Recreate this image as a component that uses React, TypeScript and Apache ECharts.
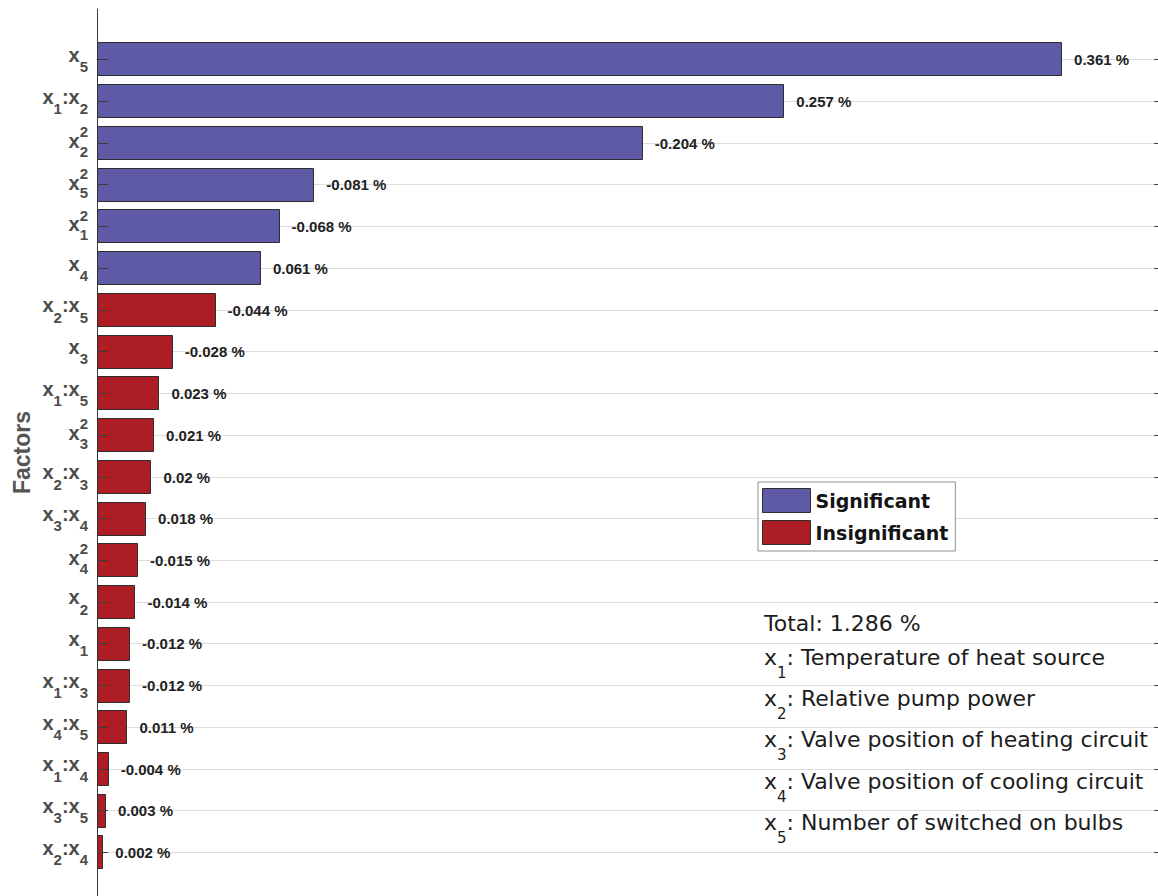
import React, { useEffect, useRef } from "react";
import * as echarts from "echarts";

// Model terms, ordered by the magnitude of their effect
const categories = [
  "x5", "x1:x2", "x2^2", "x5^2", "x1^2", "x4", "x2:x5", "x3", "x1:x5", "x3^2",
  "x2:x3", "x3:x4", "x4^2", "x2", "x1", "x1:x3", "x4:x5", "x1:x4", "x3:x5", "x2:x4",
];

// Signed effect of each term, in percent
const effects = [
  0.361, 0.257, -0.204, -0.081, -0.068, 0.061, -0.044, -0.028, 0.023, 0.021,
  0.02, 0.018, -0.015, -0.014, -0.012, -0.012, 0.011, -0.004, 0.003, 0.002,
];

// Whether each term is statistically significant
const significant = [
  true, true, true, true, true, true, false, false, false, false,
  false, false, false, false, false, false, false, false, false, false,
];

const groupNames = ["Significant", "Insignificant"];
const totalEffect = 1.286;
const factorDescriptions = [
  "Temperature of heat source",
  "Relative pump power",
  "Valve position of heating circuit",
  "Valve position of cooling circuit",
  "Number of switched on bulbs",
];

// Axis extents: the frame runs a little past the visible canvas on the right and bottom
const X_MAX = 0.3973;
const X_FRAME = 0.4;
const Y_MIN = -1.2;
const Y_MAX = 20.05;

const SIG_COLOR = "#5e5aa5";
const INSIG_COLOR = "#ad1d24";
const EDGE = "#2e2e2e";
const AXIS = "#3c3c3c";
const GRID = "#dcdcdc";
const SANS = "'Liberation Sans', Arial, Helvetica, sans-serif";
const WIDE = "'DejaVu Sans', Verdana, sans-serif";
const LABEL_GRAY = "#4c4c4c";

function parseTerm(term: string) {
  const squared = term.endsWith("^2");
  const body = squared ? term.slice(0, -2) : term;
  const rich = body
    .split(":")
    .map((t) => `{b|x}{s|${t.slice(1)}}`)
    .join("{b|:}");
  return { rich, squared };
}

const parsedTerms = categories.map(parseTerm);

const richBase = (lineHeight: number) => ({
  b: { fontFamily: SANS, fontSize: 20, fontWeight: "bold", fill: LABEL_GRAY, lineHeight },
  s: { fontFamily: SANS, fontSize: 15, fontWeight: "bold", fill: LABEL_GRAY, verticalAlign: "bottom" },
});
const richPlain = richBase(38.5);
const richSquared = richBase(35.5);

const crisp = (v: number) => Math.round(v) + 0.5;

function barSeries(name: string, color: string, flag: boolean) {
  const data = effects
    .map((v, i) => [Math.abs(v), i, v])
    .filter((_, i) => significant[i] === flag);
  return {
    type: "custom",
    name,
    clip: false,
    encode: { x: 0, y: 1 },
    itemStyle: { color, borderColor: EDGE, borderWidth: 1 },
    data,
    renderItem: (_params: any, api: any) => {
      const mag = api.value(0);
      const idx = api.value(1);
      const signed = api.value(2);
      const start = api.coord([0, idx]);
      const end = api.coord([mag, idx]);
      const h = api.size([0, 0.8])[1];
      return {
        type: "group",
        children: [
          {
            type: "rect",
            shape: {
              x: Math.round(start[0]) + 0.5,
              y: Math.round(start[1] - h / 2) + 0.5,
              width: Math.round(end[0] - start[0]),
              height: Math.round(h),
            },
            style: { fill: color, stroke: EDGE, lineWidth: 1 },
          },
          {
            type: "text",
            x: end[0] + 13,
            y: end[1] + 0.5,
            style: {
              text: `${signed} %`,
              fontFamily: SANS,
              fontSize: 15,
              fontWeight: "bold",
              fill: "#222222",
              align: "left",
              verticalAlign: "middle",
            },
          },
        ],
      };
    },
  };
}

export default function App() {
  const ref = useRef<HTMLDivElement>(null);

  useEffect(() => {
    if (!ref.current) return;
    const chart = echarts.init(ref.current, undefined, { renderer: "svg" });

    const rowData = categories.map((_, i) => [0, i]);

    const option: any = {
      animation: false,
      backgroundColor: "#ffffff",
      grid: { left: 97, top: 9, right: 0, bottom: 0, containLabel: false },
      xAxis: {
        type: "value",
        min: 0,
        max: X_MAX,
        position: "top",
        axisLine: { show: true, lineStyle: { color: AXIS, width: 1 } },
        axisTick: { show: false },
        axisLabel: { show: false },
        splitLine: { show: false },
      },
      yAxis: {
        type: "value",
        inverse: true,
        min: Y_MIN,
        max: Y_MAX,
        axisLine: { show: true, lineStyle: { color: AXIS, width: 1 } },
        axisTick: { show: false },
        axisLabel: { show: false },
        splitLine: { show: false },
        name: "Factors",
        nameLocation: "middle",
        nameRotate: 90,
        nameGap: 64,
        nameTextStyle: { fontFamily: SANS, fontWeight: "bold", fontSize: 23, color: "#555555" },
      },
      legend: {
        data: groupNames,
        left: 758,
        top: 482,
        orient: "vertical",
        icon: "rect",
        itemWidth: 48,
        itemHeight: 24,
        itemGap: 7,
        padding: [6, 7, 6, 4],
        borderColor: "#8f8f8f",
        borderWidth: 1,
        borderRadius: 0,
        backgroundColor: "#ffffff",
        selectedMode: false,
        itemStyle: { borderColor: EDGE, borderWidth: 1 },
        textStyle: { fontFamily: WIDE, fontWeight: "bold", fontSize: 19, color: "#141414" },
      },
      series: [
        {
          type: "custom",
          name: "rows",
          clip: false,
          silent: true,
          encode: { x: 0, y: 1 },
          data: rowData,
          renderItem: (_params: any, api: any) => {
            const idx = api.value(1);
            const left = api.coord([0, idx]);
            const right = api.coord([X_FRAME, idx]);
            const y = crisp(left[1]);
            return {
              type: "line",
              shape: { x1: left[0], y1: y, x2: right[0], y2: y },
              style: { stroke: GRID, lineWidth: 1 },
            };
          },
        },
        barSeries(groupNames[0], SIG_COLOR, true),
        barSeries(groupNames[1], INSIG_COLOR, false),
        {
          type: "custom",
          name: "terms",
          clip: false,
          silent: true,
          encode: { x: 0, y: 1 },
          data: rowData,
          renderItem: (_params: any, api: any) => {
            const idx = api.value(1);
            const left = api.coord([0, idx]);
            const right = api.coord([X_FRAME, idx]);
            const y = crisp(left[1]);
            const term = parsedTerms[idx];
            const anchor = left[0] - 9;
            const children: any[] = [
              {
                type: "line",
                shape: { x1: left[0], y1: y, x2: left[0] + 11, y2: y },
                style: { stroke: AXIS, lineWidth: 1 },
              },
              {
                type: "line",
                shape: { x1: right[0] - 11, y1: y, x2: right[0], y2: y },
                style: { stroke: AXIS, lineWidth: 1 },
              },
              {
                type: "text",
                x: anchor,
                y: left[1] + (term.squared ? -1.74 : -4.24),
                style: {
                  text: term.rich,
                  rich: term.squared ? richSquared : richPlain,
                  align: "right",
                  verticalAlign: "middle",
                },
              },
            ];
            if (term.squared) {
              children.push({
                type: "text",
                x: anchor,
                y: left[1] - 11,
                style: {
                  text: "2",
                  fontFamily: SANS,
                  fontSize: 15,
                  fontWeight: "bold",
                  fill: LABEL_GRAY,
                  align: "right",
                  verticalAlign: "middle",
                },
              });
            }
            return { type: "group", children };
          },
        },
      ],
      graphic: [
        {
          type: "text",
          x: 764,
          y: 623.4,
          style: {
            text: `Total: ${totalEffect} %`,
            fontFamily: WIDE,
            fontSize: 22,
            fill: "#1c1c1c",
            verticalAlign: "middle",
          },
        },
        ...factorDescriptions.map((desc, k) => ({
          type: "text",
          x: 764,
          y: 657.4 + k * 41.25,
          style: {
            text: `{b|x}{s|${k + 1}}{b|: ${desc}}`,
            rich: {
              b: { fontFamily: WIDE, fontSize: 22, lineHeight: 46, fill: "#1c1c1c" },
              s: { fontFamily: WIDE, fontSize: 15, fill: "#1c1c1c", verticalAlign: "bottom" },
            },
            verticalAlign: "middle",
          },
        })),
      ],
    };

    chart.setOption(option);
    return () => chart.dispose();
  }, []);

  return (
    <div
      ref={ref}
      style={{ position: "absolute", left: 0, top: 0, width: 1158, height: 896 }}
    />
  );
}
